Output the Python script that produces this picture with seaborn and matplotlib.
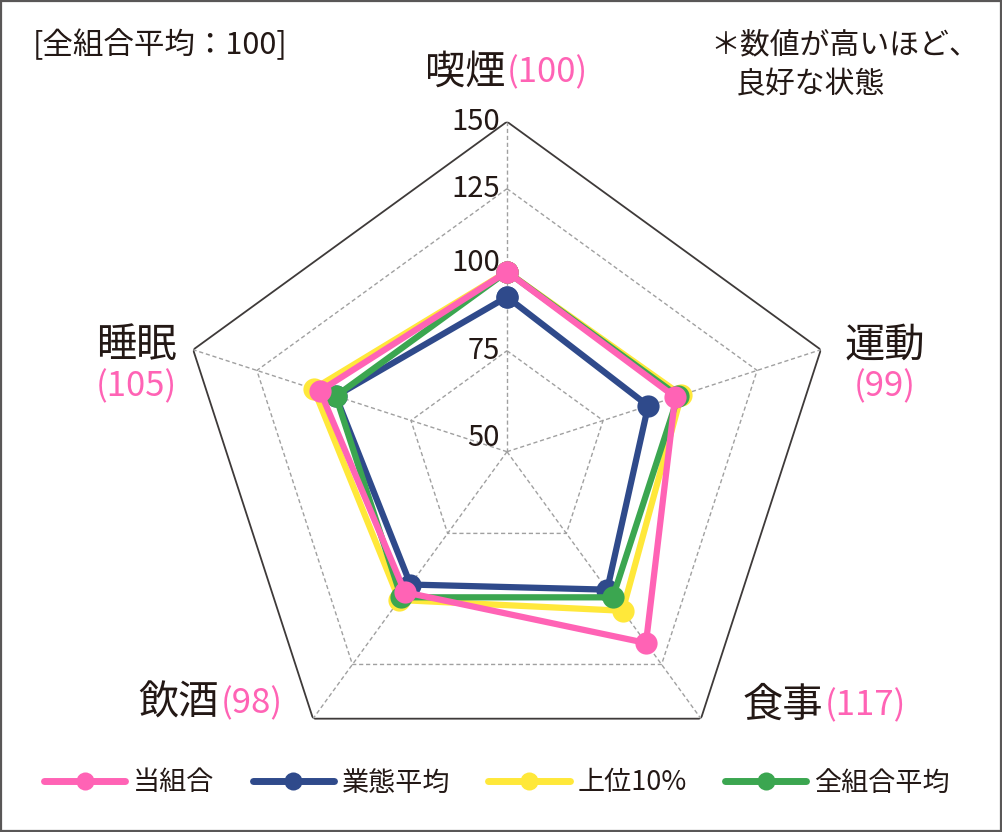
import numpy as np
import pandas as pd
import seaborn as sns

import matplotlib
matplotlib.use('Agg')
import matplotlib.pyplot as plt
from matplotlib.lines import Line2D
from matplotlib.patches import Rectangle

# data
categories = ['喫煙', '運動', '食事', '飲酒', '睡眠']
series_names = ['当組合', '業態平均', '上位10%', '全組合平均']
own_values = [100, 99, 117, 98, 105]
industry_values = [92, 90, 97, 95, 100]
top10_values = [100, 101, 105, 101, 107]
overall_values = [100, 100, 100, 100, 100]
ring_levels = [50, 75, 100, 125, 150]
tick_labels = ['50', '75', '100', '125', '150']

colors = {'当組合': '#FF63B5', '業態平均': '#2F4A8B',
          '上位10%': '#FFE83A', '全組合平均': '#3BA650'}
draw_order = ['上位10%', '業態平均', '全組合平均', '当組合']
text_color = '#231815'
pink = colors['当組合']

# the rings in the original are not evenly spaced -> piecewise radial scale
ring_radius = [0, 101, 180, 263, 330]


def r_forward(v):
    return np.interp(v, ring_levels, ring_radius)


def r_inverse(r):
    return np.interp(r, ring_radius, ring_levels)


values = {'当組合': own_values, '業態平均': industry_values,
          '上位10%': top10_values, '全組合平均': overall_values}
angles = list(np.linspace(0, 2 * np.pi, len(categories), endpoint=False))
closed_angles = angles + [2 * np.pi]

rows = []
for name in series_names:
    vals = values[name]
    for a, v in zip(closed_angles, vals + vals[:1]):
        rows.append({'angle': a, 'score': v, 'series': name})
df = pd.DataFrame(rows)

sns.set_style('white')
plt.rcParams['font.family'] = ['Noto Sans CJK JP', 'DejaVu Sans']

W, H = 1002, 832
fig = plt.figure(figsize=(W / 100, H / 100), dpi=100)
cx, cy, R = 507, 451.7, 330
ax = fig.add_axes([(cx - R) / W, (H - cy - R) / H, 2 * R / W, 2 * R / H],
                  projection='polar')
ax.set_theta_zero_location('N')
ax.set_theta_direction(-1)
ax.set_rscale('function', functions=(r_forward, r_inverse))

# pentagon grid
for lvl in ring_levels[1:-1]:
    ax.plot(closed_angles, [lvl] * len(closed_angles), ls=(0, (3, 2)),
            color='#a0a0a0', lw=1, zorder=1)
ax.plot(closed_angles, [ring_levels[-1]] * len(closed_angles),
        color='#3e3a39', lw=1.3, zorder=1)
for a in angles:
    ax.plot([a, a], [ring_levels[0], ring_levels[-1]], ls=(0, (3, 2)),
            color='#a0a0a0', lw=1, zorder=1)

sns.lineplot(data=df, x='angle', y='score', hue='series', hue_order=draw_order,
             palette=colors, marker='o', markersize=16, markeredgewidth=0,
             linewidth=4.5, sort=True, errorbar=None, legend=False, ax=ax,
             zorder=3)

ax.set_ylim(ring_levels[0], ring_levels[-1])
ax.set_xticks([])
ax.set_yticks([])
ax.set_xlabel('')
ax.set_ylabel('')
ax.grid(False)
ax.spines['polar'].set_visible(False)

# scale labels on the top spoke
label_dy = [10, 0, 6, 0, 0]
for lvl, lab, dy in zip(ring_levels, tick_labels, label_dy):
    ax.annotate(lab, xy=(0, lvl), xytext=(-5, dy), textcoords='offset points',
                ha='right', va='center', fontsize=21, color=text_color, zorder=5)


def px(x, y):
    return x / W, 1 - y / H


cat_fs, val_fs = 29, 25
# 喫煙 / 食事 / 飲酒 : value to the right of the label
for i, (xr, y) in zip([0, 2, 3], [(505, 72), (823, 705), (219, 703)]):
    fig.text(*px(xr, y), categories[i], ha='right', va='center',
             fontsize=cat_fs, color=text_color)
    fig.text(*px(xr + 2, y + 1), f'({own_values[i]})', ha='left', va='center',
             fontsize=val_fs, color=pink)
# 運動 / 睡眠 : value below the label
for i, x in zip([1, 4], [885, 136]):
    fig.text(*px(x, 345), categories[i], ha='center', va='center',
             fontsize=cat_fs, color=text_color)
    fig.text(*px(x, 387), f'({own_values[i]})', ha='center', va='center',
             fontsize=val_fs, color=pink)

fig.text(*px(33, 45), '[全組合平均：100]', ha='left', va='center',
         fontsize=22, color=text_color)
fig.text(*px(710, 45), '＊数値が高いほど、', ha='left', va='center',
         fontsize=21.5, color=text_color)
fig.text(*px(736, 85), '良好な状態', ha='left', va='center',
         fontsize=21.5, color=text_color)

handles = [Line2D([], [], color=colors[n], lw=5, marker='o', markersize=13,
                  markeredgewidth=0) for n in series_names]
fig.legend(handles, series_names, loc='center', bbox_to_anchor=px(497, 783),
           ncol=4, frameon=False, fontsize=19.5, handlelength=3.0,
           handletextpad=0.3, columnspacing=1.4, labelcolor=text_color)

fig.patches.append(Rectangle((0.001, 0.0015), 0.998, 0.997,
                             transform=fig.transFigure, fill=False,
                             edgecolor='#595757', lw=1.6))

fig.savefig('out.png', dpi=100)
plt.close(fig)
